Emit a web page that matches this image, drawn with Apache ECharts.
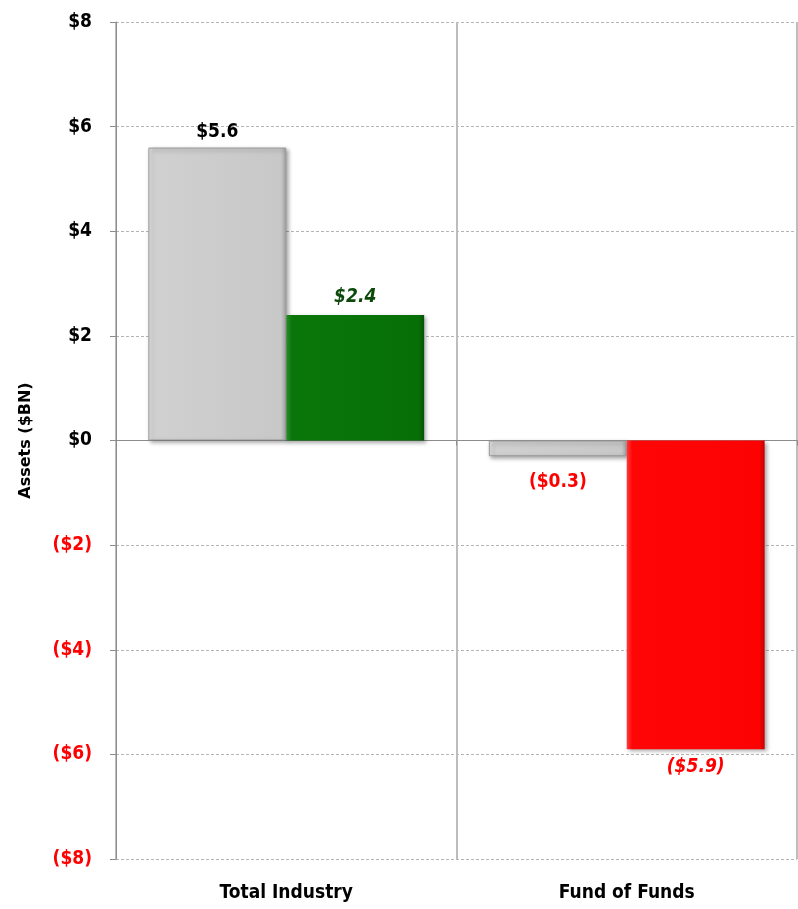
<!DOCTYPE html>
<html>
<head>
<meta charset="utf-8">
<script src="https://cdn.jsdelivr.net/npm/echarts@6/dist/echarts.min.js"></script>
<style>
html,body{margin:0;padding:0;background:#fff;}
#chart{width:798px;height:909px;}
</style>
</head>
<body>
<div id="chart"></div>
<script>
const categories = ['Total Industry', 'Fund of Funds'];
const seriesA = [5.6, -0.3];
const seriesB = [2.4, -5.9];
const yTicks = [-8, -6, -4, -2, 0, 2, 4, 6, 8];

const FONT = "'DejaVu Sans Condensed', 'Liberation Sans Narrow', sans-serif";

function money(v) {
  return v >= 0 ? '$' + v : '($' + Math.abs(v) + ')';
}

const chart = echarts.init(document.getElementById('chart'), null, {renderer: 'canvas'});

const bevelGrey = {
  type: 'linear', x: 0, y: 0, x2: 1, y2: 0,
  colorStops: [
    {offset: 0, color: '#e6e6e6'},
    {offset: 0.04, color: '#d0d0d0'},
    {offset: 0.96, color: '#c8c8c8'},
    {offset: 1, color: '#a5a5a5'}
  ]
};
const bevelGreen = {
  type: 'linear', x: 0, y: 0, x2: 1, y2: 0,
  colorStops: [
    {offset: 0, color: '#2e8e2e'},
    {offset: 0.04, color: '#0a760a'},
    {offset: 0.96, color: '#067006'},
    {offset: 1, color: '#045204'}
  ]
};
const bevelRed = {
  type: 'linear', x: 0, y: 0, x2: 1, y2: 0,
  colorStops: [
    {offset: 0, color: '#ff3a3a'},
    {offset: 0.04, color: '#ff0606'},
    {offset: 0.96, color: '#fd0202'},
    {offset: 1, color: '#c80000'}
  ]
};

const dataA = seriesA.map(v => ({
  value: v,
  itemStyle: {color: bevelGrey},
  label: {
    show: true,
    position: v >= 0 ? 'top' : 'bottom',
    distance: v >= 0 ? 6 : 16,
    color: v >= 0 ? '#000' : '#ff0000',
    fontStyle: 'normal'
  }
}));
const dataB = seriesB.map(v => ({
  value: v,
  itemStyle: {color: v >= 0 ? bevelGreen : bevelRed},
  label: {
    show: true,
    position: v >= 0 ? 'top' : 'bottom',
    distance: 8,
    color: v >= 0 ? '#0b4a0b' : '#ff0000',
    fontStyle: 'italic'
  }
}));

const labelBase = {
  fontFamily: FONT,
  fontWeight: 'bold',
  fontSize: 19,
  formatter: p => money(p.value)
};

chart.setOption({
  animation: false,
  backgroundColor: '#fff',
  grid: {left: 116, right: 1, top: 22, bottom: 50, containLabel: false},
  xAxis: [{
    type: 'category',
    data: categories,
    axisLine: {show: false, onZero: false},
    axisTick: {show: false},
    splitLine: {show: true, lineStyle: {color: '#bdbdbd', width: 2}},
    axisLabel: {
      color: '#000', fontFamily: FONT, fontWeight: 'bold', fontSize: 19, margin: 25
    }
  }, {
    type: 'category',
    data: categories,
    position: 'bottom',
    axisLine: {show: true, onZero: true, lineStyle: {color: '#8c8c8c', width: 1}},
    axisTick: {show: true, length: 5, lineStyle: {color: '#8c8c8c'}},
    axisLabel: {show: false},
    splitLine: {show: false}
  }],
  yAxis: {
    type: 'value',
    min: yTicks[0],
    max: yTicks[yTicks.length - 1],
    interval: 2,
    name: 'Assets ($BN)',
    nameLocation: 'middle',
    nameGap: 82,
    nameRotate: 90,
    nameTextStyle: {fontFamily: "'DejaVu Sans', sans-serif", fontWeight: 'bold', fontSize: 16, color: '#000'},
    axisLine: {show: true, lineStyle: {color: '#8c8c8c', width: 1}},
    axisTick: {show: true, length: 6, lineStyle: {color: '#8c8c8c'}},
    splitLine: {show: true, lineStyle: {color: '#b5b5b5', type: [3, 2], width: 1}},
    axisLabel: {
      fontFamily: FONT, fontWeight: 'bold', fontSize: 19, margin: 24,
      formatter: v => money(v),
      color: v => (Number(v) < 0 ? '#ff0000' : '#000')
    }
  },
  series: [{
    type: 'bar',
    data: dataA,
    barWidth: '40.5%',
    barGap: '0%',
    itemStyle: {
      borderColor: '#9a9a9a', borderWidth: 1,
      shadowColor: 'rgba(0,0,0,0.35)', shadowBlur: 4, shadowOffsetX: 2, shadowOffsetY: 2
    },
    label: labelBase
  }, {
    type: 'bar',
    data: dataB,
    barWidth: '40.5%',
    barGap: '0%',
    itemStyle: {
      shadowColor: 'rgba(0,0,0,0.35)', shadowBlur: 4, shadowOffsetX: 2, shadowOffsetY: 2
    },
    label: labelBase
  }]
});
</script>
</body>
</html>
